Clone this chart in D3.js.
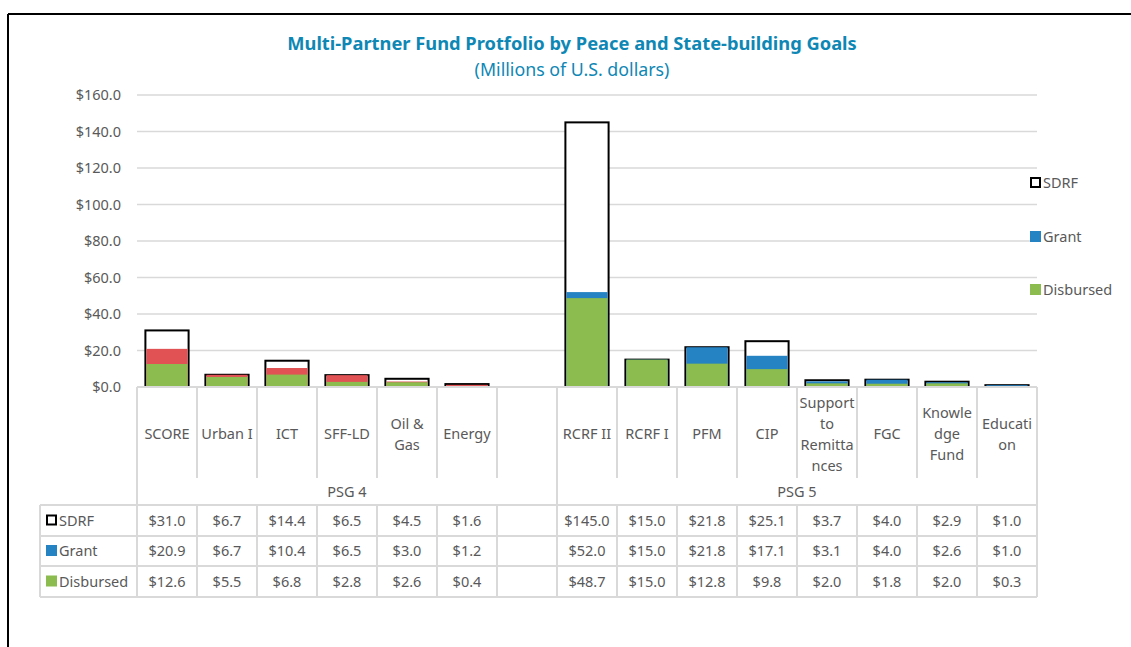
<!DOCTYPE html>
<html><head><meta charset="utf-8">
<script src="https://cdn.jsdelivr.net/npm/d3@7"></script>
<style>
body{margin:0;background:#fff;}
svg{display:block;font-family:"Noto Sans",sans-serif;}
</style></head>
<body>
<svg id="c" width="1131" height="647"></svg>
<script>
const categories = ["SCORE","Urban I","ICT","SFF-LD","Oil & Gas","Energy","","RCRF II","RCRF I","PFM","CIP","Support to Remittances","FGC","Knowledge Fund","Education"];
const categoryLines = [["SCORE"],["Urban I"],["ICT"],["SFF-LD"],["Oil &","Gas"],["Energy"],[],["RCRF II"],["RCRF I"],["PFM"],["CIP"],["Support","to","Remitta","nces"],["FGC"],["Knowle","dge","Fund"],["Educati","on"]];
const groups = ["PSG 4","PSG 4","PSG 4","PSG 4","PSG 4","PSG 4","PSG 4","PSG 5","PSG 5","PSG 5","PSG 5","PSG 5","PSG 5","PSG 5","PSG 5"];
const sdrf = [31.0,6.7,14.4,6.5,4.5,1.6,null,145.0,15.0,21.8,25.1,3.7,4.0,2.9,1.0];
const grant = [20.9,6.7,10.4,6.5,3.0,1.2,null,52.0,15.0,21.8,17.1,3.1,4.0,2.6,1.0];
const disbursed = [12.6,5.5,6.8,2.8,2.6,0.4,null,48.7,15.0,12.8,9.8,2.0,1.8,2.0,0.3];
const yTicks = [0,20,40,60,80,100,120,140,160];
const seriesNames = ["SDRF","Grant","Disbursed"];

const svg = d3.select("#c");
const txt = "#595959", grid = "#d9d9d9";
const green = "#8cbb4f", blue = "#2582c3", red = "#e05254";

// frame
svg.append("line").attr("x1",8).attr("x2",1131).attr("y1",14).attr("y2",14).attr("stroke","#000").attr("stroke-width",2);
svg.append("line").attr("x1",8).attr("x2",8).attr("y1",14).attr("y2",647).attr("stroke","#000").attr("stroke-width",2);

// title
svg.append("text").attr("x",572).attr("y",50).attr("text-anchor","middle").attr("fill","#0e87b5")
  .attr("font-weight","bold").attr("font-size",18.3).text("Multi-Partner Fund Protfolio by Peace and State-building Goals");
svg.append("text").attr("x",572).attr("y",76).attr("text-anchor","middle").attr("fill","#0e87b5")
  .attr("font-size",17.8).text("(Millions of U.S. dollars)");

const idx = d3.range(categories.length);
const x = d3.scaleBand().domain(idx).range([137,1037]).paddingInner(0.28).paddingOuter(0.14);
const step = x.step();
const left = i => 137 + i*step;
const y = d3.scaleLinear().domain([0,160]).range([387,95]);

// gridlines
svg.append("g").selectAll("line").data(yTicks.slice(1)).join("line")
  .attr("x1",137).attr("x2",1037).attr("y1",d=>y(d)).attr("y2",d=>y(d))
  .attr("stroke",grid).attr("stroke-width",1.5);

// y labels
svg.append("g").selectAll("text").data(yTicks).join("text")
  .attr("x",121).attr("y",d=>y(d)+5).attr("text-anchor","end").attr("fill",txt).attr("font-size",14.5)
  .text(d=>"$"+d.toFixed(1));

// bars
const bars = svg.append("g");
bars.selectAll("rect.s").data(idx.filter(i=>sdrf[i]!=null)).join("rect").attr("class","s")
  .attr("x",i=>x(i)).attr("width",x.bandwidth()).attr("y",i=>y(sdrf[i])).attr("height",i=>y(0)-y(sdrf[i]))
  .attr("fill","#fff").attr("stroke","#000").attr("stroke-width",2);
bars.selectAll("rect.g").data(idx.filter(i=>grant[i]!=null)).join("rect").attr("class","g")
  .attr("x",i=>x(i)+1).attr("width",x.bandwidth()-2).attr("y",i=>y(grant[i])).attr("height",i=>y(0)-y(grant[i]))
  .attr("fill",i=>groups[i]==="PSG 4"?red:blue);
bars.selectAll("rect.d").data(idx.filter(i=>disbursed[i]!=null)).join("rect").attr("class","d")
  .attr("x",i=>x(i)+1).attr("width",x.bandwidth()-2).attr("y",i=>y(disbursed[i])).attr("height",i=>y(0)-y(disbursed[i]))
  .attr("fill",green);

// axis baseline
svg.append("line").attr("x1",137).attr("x2",1037).attr("y1",387).attr("y2",387).attr("stroke",grid).attr("stroke-width",2);

// table structure
const tg = svg.append("g").attr("stroke",grid).attr("stroke-width",2);
const catTop = 387, catBot = 478, rowTops = [505,536,566], tabBot = 597;
d3.range(categories.length+1).forEach(k=>{
  const xx = left(k);
  const full = (k===0 || k===7 || k===categories.length);
  tg.append("line").attr("x1",xx).attr("x2",xx).attr("y1",catTop).attr("y2",full?tabBot:catBot);
  if(!full) tg.append("line").attr("x1",xx).attr("x2",xx).attr("y1",rowTops[0]).attr("y2",tabBot);
});
[...rowTops, tabBot].forEach(yy=>tg.append("line").attr("x1",40).attr("x2",1037).attr("y1",yy).attr("y2",yy));
tg.append("line").attr("x1",40).attr("x2",40).attr("y1",rowTops[0]).attr("y2",tabBot);

// category labels
const lh = 21;
idx.forEach(i=>{
  const lines = categoryLines[i];
  const cy = 434;
  const y0 = cy - (lines.length-1)*lh/2 + 5;
  lines.forEach((l,j)=>{
    svg.append("text").attr("x",x(i)+x.bandwidth()/2).attr("y",y0+j*lh).attr("text-anchor","middle")
      .attr("fill",txt).attr("font-size",14.5).text(l);
  });
});
[["PSG 4",0,7],["PSG 5",7,15]].forEach(([g,a,b])=>{
  svg.append("text").attr("x",(left(a)+left(b))/2).attr("y",497).attr("text-anchor","middle")
    .attr("fill",txt).attr("font-size",14.5).text(g);
});

// data rows
const series = [sdrf,grant,disbursed];
series.forEach((arr,r)=>{
  const cy = (rowTops[r] + (r<2?rowTops[r+1]:tabBot))/2;
  if(r===0) svg.append("rect").attr("x",47).attr("y",cy-5).attr("width",9).attr("height",9).attr("fill","#fff").attr("stroke","#000").attr("stroke-width",2);
  else svg.append("rect").attr("x",46).attr("y",cy-6).attr("width",11).attr("height",11).attr("fill",r===1?blue:green);
  svg.append("text").attr("x",59).attr("y",cy+5).attr("fill",txt).attr("font-size",14.5).text(seriesNames[r]);
  idx.forEach(i=>{
    if(arr[i]==null) return;
    svg.append("text").attr("x",x(i)+x.bandwidth()/2).attr("y",cy+5).attr("text-anchor","middle")
      .attr("fill",txt).attr("font-size",14.5).text("$"+arr[i].toFixed(1));
  });
});

// legend
const legY = [183,237,290];
seriesNames.forEach((n,r)=>{
  if(r===0) svg.append("rect").attr("x",1031).attr("y",legY[r]-5).attr("width",9).attr("height",9).attr("fill","#fff").attr("stroke","#000").attr("stroke-width",2);
  else svg.append("rect").attr("x",1030).attr("y",legY[r]-6).attr("width",11).attr("height",11).attr("fill",r===1?blue:green);
  svg.append("text").attr("x",1043).attr("y",legY[r]+5).attr("fill",txt).attr("font-size",14.5).text(n);
});
</script>
</body></html>
